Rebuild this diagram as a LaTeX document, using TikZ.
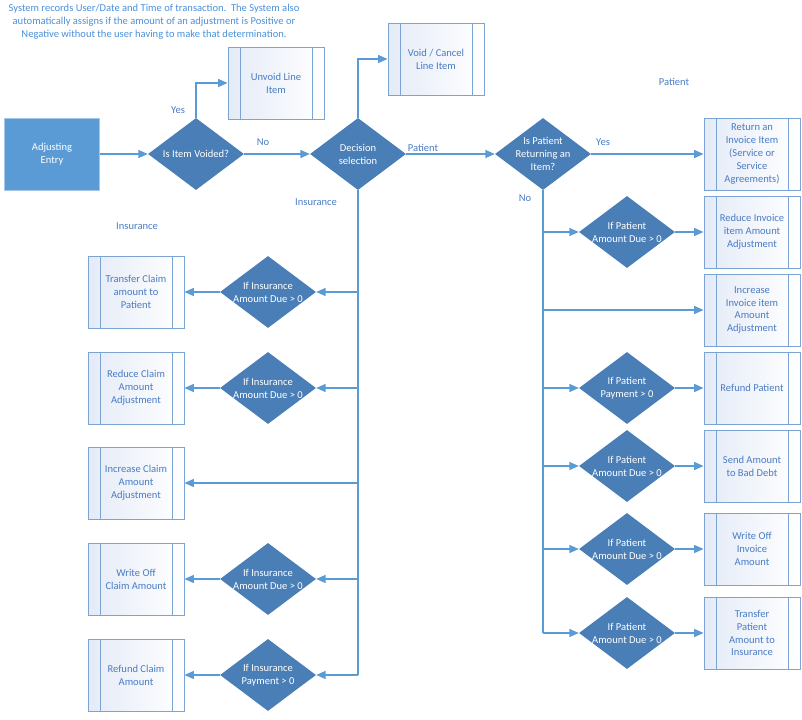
\documentclass[tikz,border=0pt]{standalone}
\usepackage{fontspec}
\setmainfont{Carlito}
\usetikzlibrary{shapes.geometric,
	arrows.meta,
	calc,
	positioning}
\definecolor{lineblue}{HTML}{5B9BD5}
\definecolor{diablue}{HTML}{4A7EB6}
\definecolor{boxedge}{HTML}{7BA3D4}
\definecolor{boxtext}{HTML}{4A7CC4}
\definecolor{boxfill}{HTML}{E4EBF7}
\definecolor{notetext}{HTML}{4A90D9}
\tikzset{
	flow/.style={draw=lineblue, line width=1pt},
	arr/.style={flow, -{Triangle[length=2.8mm,width=2.4mm]}},
	dia/.style={diamond, fill=diablue, minimum width=2.88cm, minimum height=2.16cm, inner sep=0pt},
	dtxt/.style={text=white, font=\fontsize{9}{11}\selectfont, align=center},
	proc/.style={draw=boxedge, line width=0.8pt, left color=boxfill, right color=white,
		minimum width=2.88cm, minimum height=2.16cm, inner sep=0pt,
		text=boxtext, font=\fontsize{9}{11}\selectfont, align=center,
		path picture={
			\draw[boxedge, line width=0.8pt]
				([xshift=0.36cm]path picture bounding box.north west) -- ([xshift=0.36cm]path picture bounding box.south west)
				([xshift=-0.36cm]path picture bounding box.north east) -- ([xshift=-0.36cm]path picture bounding box.south east);
		}},
	lbl/.style={text=boxtext, font=\fontsize{9}{11}\selectfont}
}

\begin{document}
\begin{tikzpicture}[x=0.03cm, y=-0.03cm]
	\useasboundingbox (0,0) rectangle (802,719);
	% note
	\node[text=notetext, font=\fontsize{9}{11}\selectfont, align=center] (note) at (154,22)
		{System records User/Date and Time of transaction.\ \ The System also\\
		 automatically assigns if the amount of an adjustment is Positive or\\
		 Negative without the user having to make that determination.};
	% top row
	\node[fill=lineblue, draw=lineblue!55, line width=0.8pt, minimum width=2.85cm, minimum height=2.16cm,
		text=white, font=\fontsize{9}{11}\selectfont, align=center] (adj) at (52,154) {Adjusting\\Entry};
	\node[dia, label={[dtxt]center:Is Item Voided?}] (voided) at (196,154) {};
	\node[proc] (unvoid) at (276,83) {Unvoid Line\\Item};
	\node[dia, label={[dtxt]center:Decision\\selection}] (decision) at (358,154) {};
	\node[proc] (cancel) at (436,59) {Void / Cancel\\Line Item};
	\node[dia, label={[dtxt]center:Is Patient\\Returning an\\Item?}] (returning) at (543,154) {};
	\node[proc] (returnitem) at (752,154) {Return an\\Invoice Item\\(Service or\\Service\\Agreements)};

	\draw[arr] (adj.east) -- (voided.west);
	\draw[arr] (voided.north) |- (unvoid.west);
	\draw[arr] (voided.east) -- (decision.west);
	\draw[arr] (decision.north) |- (cancel.west);
	\draw[arr] (decision.east) -- (returning.west);
	\draw[arr] (returning.east) -- (returnitem.west);

	% patient side
	\foreach \n/\y/\q/\t in {1/232/{If Patient\\Amount Due > 0}/{Reduce Invoice\\item Amount\\Adjustment},
		3/388/{If Patient\\Payment > 0}/{Refund Patient},
		4/466/{If Patient\\Amount Due > 0}/{Send Amount\\to Bad Debt},
		5/549/{If Patient\\Amount Due > 0}/{Write Off\\Invoice\\Amount},
		6/633/{If Patient\\Amount Due > 0}/{Transfer\\Patient\\Amount to\\Insurance}} {
		\node[dia, label={[dtxt]center:\q}] (pdec\n) at (627,\y) {};
		\node[proc] (pbox\n) at (752,\y) {\t};
		\draw[arr] (returning.south |- pdec\n.west) -- (pdec\n.west);
		\draw[arr] (pdec\n.east) -- (pbox\n.west);
	}
	\node[proc] (pbox2) at (752,310) {Increase\\Invoice item\\Amount\\Adjustment};
	\draw[arr] (returning.south |- pbox2.west) -- (pbox2.west);
	\draw[flow] (returning.south) -- (returning.south |- pdec6.west);

	% insurance side
	\foreach \n/\y/\q/\t in {1/292/{If Insurance\\Amount Due > 0}/{Transfer Claim\\amount to\\Patient},
		2/388/{If Insurance\\Amount Due > 0}/{Reduce Claim\\Amount\\Adjustment},
		4/579/{If Insurance\\Amount Due > 0}/{Write Off\\Claim Amount},
		5/675/{If Insurance\\Payment > 0}/{Refund Claim\\Amount}} {
		\node[dia, label={[dtxt]center:\q}] (idec\n) at (268,\y) {};
		\node[proc] (ibox\n) at (136,\y) {\t};
		\draw[arr] (decision.south |- idec\n.east) -- (idec\n.east);
		\draw[arr] (idec\n.west) -- (ibox\n.east);
	}
	\node[proc] (ibox3) at (136,483) {Increase Claim\\Amount\\Adjustment};
	\draw[arr] (decision.south |- ibox3.east) -- (ibox3.east);
	\draw[flow] (decision.south) -- (decision.south |- idec5.east);

	% branch labels
	\node[lbl] (yesA) at (178,110) {Yes};
	\node[lbl] (noA) at (263,142) {No};
	\node[lbl] (patA) at (423,148) {Patient};
	\node[lbl] (yesB) at (603,142) {Yes};
	\node[lbl] (noB) at (525,198) {No};
	\node[lbl] (patB) at (674,82) {Patient};
	\node[lbl] (insA) at (316,202) {Insurance};
	\node[lbl] (insB) at (137,226) {Insurance};
\end{tikzpicture}
\end{document}
